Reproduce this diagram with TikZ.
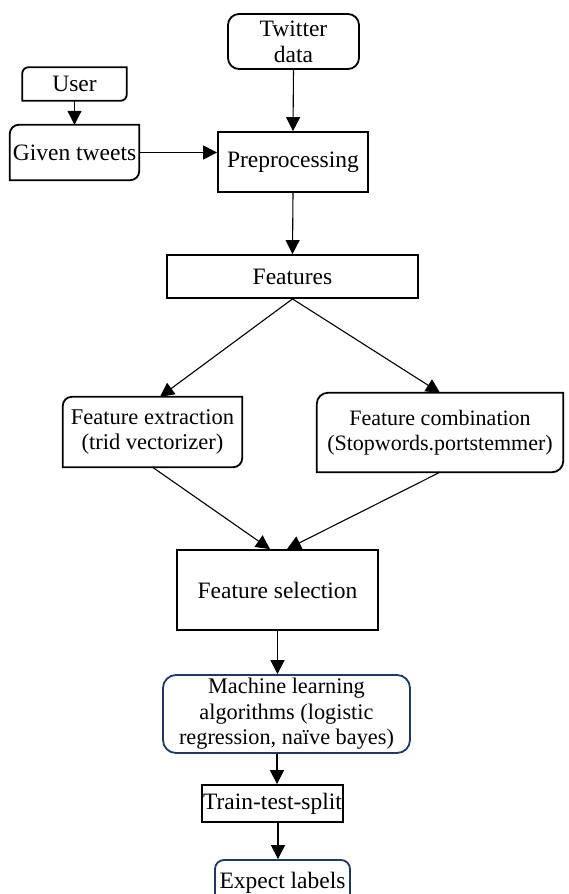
\documentclass[tikz,border=0pt]{standalone}
\usepackage{fontspec}
\setmainfont{Liberation Serif}
\usetikzlibrary{arrows.meta}
\definecolor{navy}{RGB}{31,56,100}
\tikzset{
  box/.style={draw=black, line width=1.8pt, inner sep=0pt, align=center, font=\fontsize{23.5}{26}\selectfont},
  bare/.style={inner sep=0pt, align=center, font=\fontsize{23.5}{26}\selectfont},
  tlbrline/.style={draw=black, line width=1.8pt},
  arr/.style={line width=1.1pt, -{Triangle[width=14pt,length=14pt]}},
  seg/.style={line width=1.1pt}
}
\newcommand\tlbrbox[2]{\draw[tlbrline] (#1.west) [rounded corners=#2] -- (#1.north west) -- (#1.north) [sharp corners] -- (#1.north east) -- (#1.east) [rounded corners=#2] -- (#1.south east) -- (#1.south) [sharp corners] -- (#1.south west) -- cycle;}
\begin{document}
\begin{tikzpicture}[x=1pt,y=-1pt]
\fill[white] (0,0) rectangle (568,894);
\useasboundingbox (0,0) rectangle (568,894);
\clip (0,0) rectangle (568,894);
% nodes
\node[box, rounded corners=11pt, minimum width=131pt, minimum height=55pt] (twitter) at (293.5,41.5) {Twitter\\data};
\node[bare, minimum width=104pt, minimum height=33pt] (user) at (74.5,84) {User};
\node[bare, minimum width=129pt, minimum height=55pt] (given) at (74.5,152.5) {Given tweets};
\node[box, minimum width=150pt, minimum height=60pt] (prep) at (293,162) {Preprocessing};
\node[box, minimum width=251pt, minimum height=43pt] (feat) at (292.5,276.5) {Features};
\node[bare, font=\fontsize{22.5}{25}\selectfont, minimum width=179pt, minimum height=70pt] (fe) at (152.5,432) {Feature extraction\\(trid vectorizer)};
\node[bare, font=\fontsize{22}{25}\selectfont, minimum width=246pt, minimum height=79pt] (fc) at (440,432.5) {Feature combination\\(Stopwords.portstemmer)};
\node[box, minimum width=201pt, minimum height=80pt] (fsel) at (277.5,590) {Feature selection};
\node[box, draw=navy, font=\fontsize{22.3}{25.5}\selectfont, rounded corners=13pt, minimum width=247pt, minimum height=78pt] (ml) at (286.5,714) {Machine learning\\algorithms (logistic\\regression, na\"ive bayes)};
\node[box, minimum width=141pt, minimum height=37pt] (tts) at (272.5,803.5) {Train-test-split};
\node[box, draw=navy, rounded corners=9pt, minimum width=135pt, minimum height=46pt] (exp) at (282.5,883) {Expect labels};
\tlbrbox{user}{6pt}
\tlbrbox{given}{9pt}
\tlbrbox{fe}{9pt}
\tlbrbox{fc}{11pt}
% helper coordinates
\path ([xshift=7.5pt]fe.north) coordinate (fein);
\path ([xshift=-7.5pt]fsel.north) coordinate (fsl);
\path ([xshift=9.5pt]fsel.north) coordinate (fsr);
\path ([xshift=4.5pt]tts.north) coordinate (ttsin);
\path ([xshift=5.5pt]tts.south) coordinate (ttsout);
% connectors
\draw[arr] (user.south) -- (given.north);
\draw[arr] (twitter.south) -- (prep.north);
\draw[arr] (given.east) -- (given.east -| prep.west);
\draw[arr] (prep.south) -- (feat.north);
\draw[arr] (feat.south) -- (fein);
\draw[arr] (feat.south) -- (fc.north);
\draw[arr] (fe.south) -- (fsl);
\draw[arr] (fc.south) -- (fsr);
\draw[arr] (fsel.south) -- (fsel.south |- ml.north);
\draw[arr] (ttsin |- ml.south) -- (ttsin);
\draw[arr] (ttsout) -- (ttsout |- exp.north);
\end{tikzpicture}
\end{document}
